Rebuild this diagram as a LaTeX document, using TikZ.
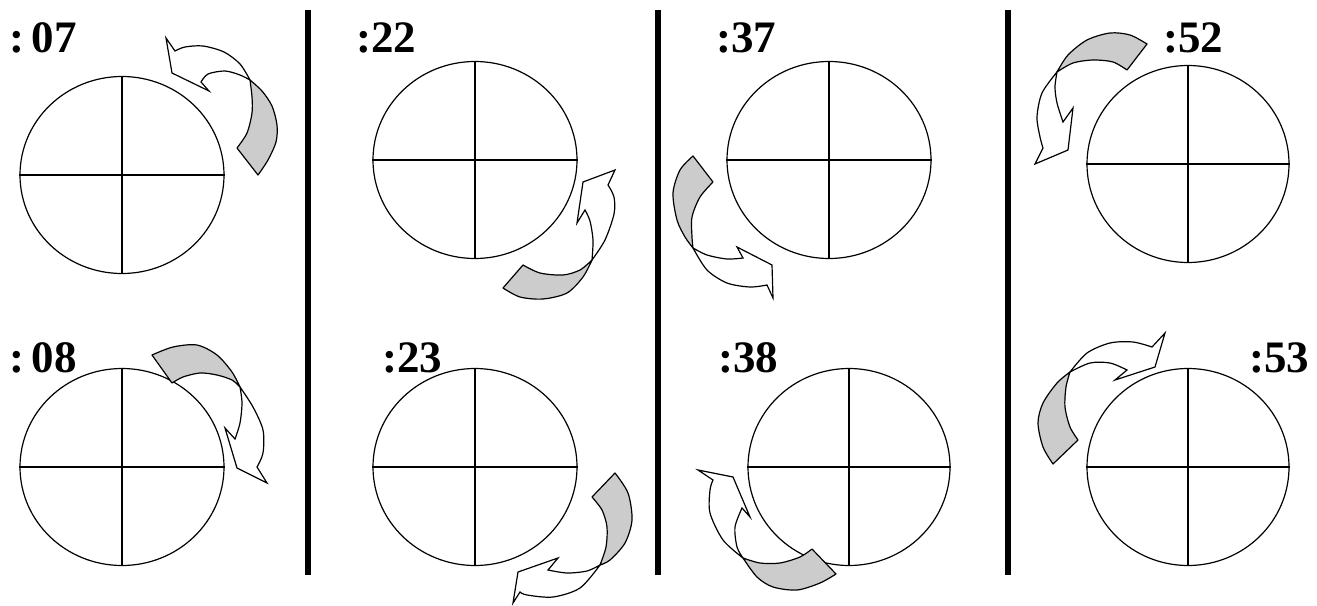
\documentclass[tikz,border=0pt]{standalone}
\usepackage{fontspec}
\setmainfont{Liberation Serif}
\usetikzlibrary{shapes.geometric}
\tikzset{
  clock/.style={draw, ellipse, line width=1.2pt, minimum width=204pt, minimum height=197pt, inner sep=0pt},
  cross/.style={line width=1.2pt},
  sepline/.style={line width=5.5pt},
  lbl/.style={anchor=base west, inner sep=0pt, font=\fontsize{45}{50}\selectfont\bfseries},
  back/.style={fill=gray!40, draw=black, line width=1.2pt, line join=round},
  front/.style={fill=white, draw=black, line width=1.2pt, line join=miter},
}
\begin{document}
\begin{tikzpicture}[x=1pt,y=-1pt]
\useasboundingbox (0,0) rectangle (1317,605);

% separators
\coordinate (s1t) at (308,10); \coordinate (s1b) at (308,575);
\coordinate (s2t) at (658,10); \coordinate (s2b) at (658,575);
\coordinate (s3t) at (1008,10); \coordinate (s3b) at (1008,575);
\draw[sepline] (s1t) -- (s1b);
\draw[sepline] (s2t) -- (s2b);
\draw[sepline] (s3t) -- (s3b);

% clocks
\node[clock] (c1) at (122,175) {};
\node[clock] (c2) at (122,467) {};
\node[clock] (c3) at (475,160) {};
\node[clock] (c4) at (475,467) {};
\node[clock] (c5) at (829,160) {};
\node[clock, minimum width=202pt] (c6) at (849,467) {};
\node[clock, minimum width=202pt] (c7) at (1188,164) {};
\node[clock, minimum width=202pt] (c8) at (1188,467) {};
\foreach \c in {c1,c2,c3,c4,c5,c6,c7,c8}{
  \draw[cross] (\c.north) -- (\c.south);
  \draw[cross] (\c.west) -- (\c.east);
}

% labels
\node[lbl] (l07) at (9,52) {:\hspace{0.17em}07};
\node[lbl] (l08) at (9,372) {:\hspace{0.17em}08};
\node[lbl] (l22) at (356,52) {:22};
\node[lbl] (l23) at (382,372) {:23};
\node[lbl] (l37) at (716,52) {:37};
\node[lbl] (l38) at (718,372) {:38};
\node[lbl] (l52) at (1163,52) {:52};
\node[lbl] (l53) at (1249,372) {:53};

% arrow 1 (:07)
\filldraw[back] plot[smooth] coordinates {(237,148) (247,133) (252,113) (252,97) (250,80)}
  -- plot[smooth] coordinates {(250,80) (262,91) (272,106) (277,125) (276,142) (268,160) (258,175)} -- cycle;
\filldraw[front] plot[smooth] coordinates {(250,80) (240,64) (224,52) (203,46) (185,47) (175,51)}
  -- (166,38) -- (172,73) -- (209,91) -- (201,82)
  -- plot[smooth] coordinates {(201,82) (208,74) (225,71) (240,75) (250,80)} -- cycle;

% arrow 2 (:08)
\filldraw[back] plot[smooth] coordinates {(172,383) (183,377) (200,373) (217,375) (232,380) (240,387)}
  -- plot[smooth] coordinates {(240,387) (232,372) (217,355) (197,345) (173,347) (152,355)} -- cycle;
\filldraw[front] plot[smooth] coordinates {(240,387) (253,407) (263,430) (263,453) (257,467)}
  -- (267,483) -- (237,468) -- (225,428) -- (235,439)
  -- plot[smooth] coordinates {(235,439) (240,423) (242,403) (240,387)} -- cycle;

% arrow 3 (:22)
\filldraw[back] plot[smooth] coordinates {(523,265) (540,273) (563,275) (580,270) (592,260)}
  -- plot[smooth] coordinates {(592,260) (583,277) (567,293) (543,299) (520,297) (503,288)} -- cycle;
\filldraw[front] plot[smooth] coordinates {(592,260) (605,240) (614,214) (614,197) (608,185)}
  -- (615,170) -- (583,182) -- (577,223) -- (585,210)
  -- plot[smooth] coordinates {(585,210) (590,221) (593,240) (592,260)} -- cycle;

% arrow 4 (:23)
\filldraw[back] plot[smooth] coordinates {(592,497) (602,510) (607,527) (606,547) (600,565)}
  -- plot[smooth] coordinates {(600,565) (610,560) (625,543) (632,520) (628,493) (615,473)} -- cycle;
\filldraw[front] plot[smooth] coordinates {(600,565) (580,588) (553,597) (527,595) (520,592)}
  -- (513,603) -- (518,572) -- (558,558) -- (548,570)
  -- plot[smooth] coordinates {(548,570) (567,573) (587,571) (600,565)} -- cycle;

% arrow 5 (:37)
\filldraw[back] plot[smooth] coordinates {(713,182) (700,197) (692,217) (692,237) (693,248)}
  -- plot[smooth] coordinates {(693,248) (685,237) (677,220) (673,193) (680,170) (693,156)} -- cycle;
\filldraw[front] plot[smooth] coordinates {(693,248) (707,270) (727,283) (750,287) (767,285)}
  -- (773,298) -- (772,265) -- (737,247) -- (743,258)
  -- plot[smooth] coordinates {(743,258) (727,259) (707,255) (693,248)} -- cycle;

% arrow 6 (:38)
\filldraw[back] plot[smooth] coordinates {(812,549) (800,557) (780,563) (760,563) (743,558)}
  -- plot[smooth] coordinates {(743,558) (757,577) (773,587) (797,590) (820,583) (836,574)} -- cycle;
\filldraw[front] plot[smooth] coordinates {(743,558) (723,540) (710,513) (710,490) (713,480)}
  -- (698,470) -- (733,477) -- (750,517) -- (742,508)
  -- plot[smooth] coordinates {(742,508) (735,527) (737,547) (743,558)} -- cycle;

% arrow 7 (:52)
\filldraw[back] plot[smooth] coordinates {(1127,70) (1113,62) (1093,60) (1073,63) (1057,72)}
  -- plot[smooth] coordinates {(1057,72) (1068,55) (1087,40) (1110,33) (1130,35) (1147,44)} -- cycle;
\filldraw[front] plot[smooth] coordinates {(1057,72) (1042,93) (1037,117) (1040,137) (1043,148)}
  -- (1035,164) -- (1068,150) -- (1073,108) -- (1063,122)
  -- plot[smooth] coordinates {(1063,122) (1057,103) (1055,87) (1057,72)} -- cycle;

% arrow 8 (:53)
\filldraw[back] plot[smooth] coordinates {(1078,440) (1070,427) (1065,407) (1066,387) (1070,372)}
  -- plot[smooth] coordinates {(1070,372) (1057,383) (1043,403) (1038,423) (1043,447) (1053,464)} -- cycle;
\filldraw[front] plot[smooth] coordinates {(1070,372) (1087,353) (1110,343) (1133,342) (1152,347)}
  -- (1165,333) -- (1155,367) -- (1115,380) -- (1127,370)
  -- plot[smooth] coordinates {(1127,370) (1110,363) (1090,363) (1070,372)} -- cycle;
\end{tikzpicture}
\end{document}
